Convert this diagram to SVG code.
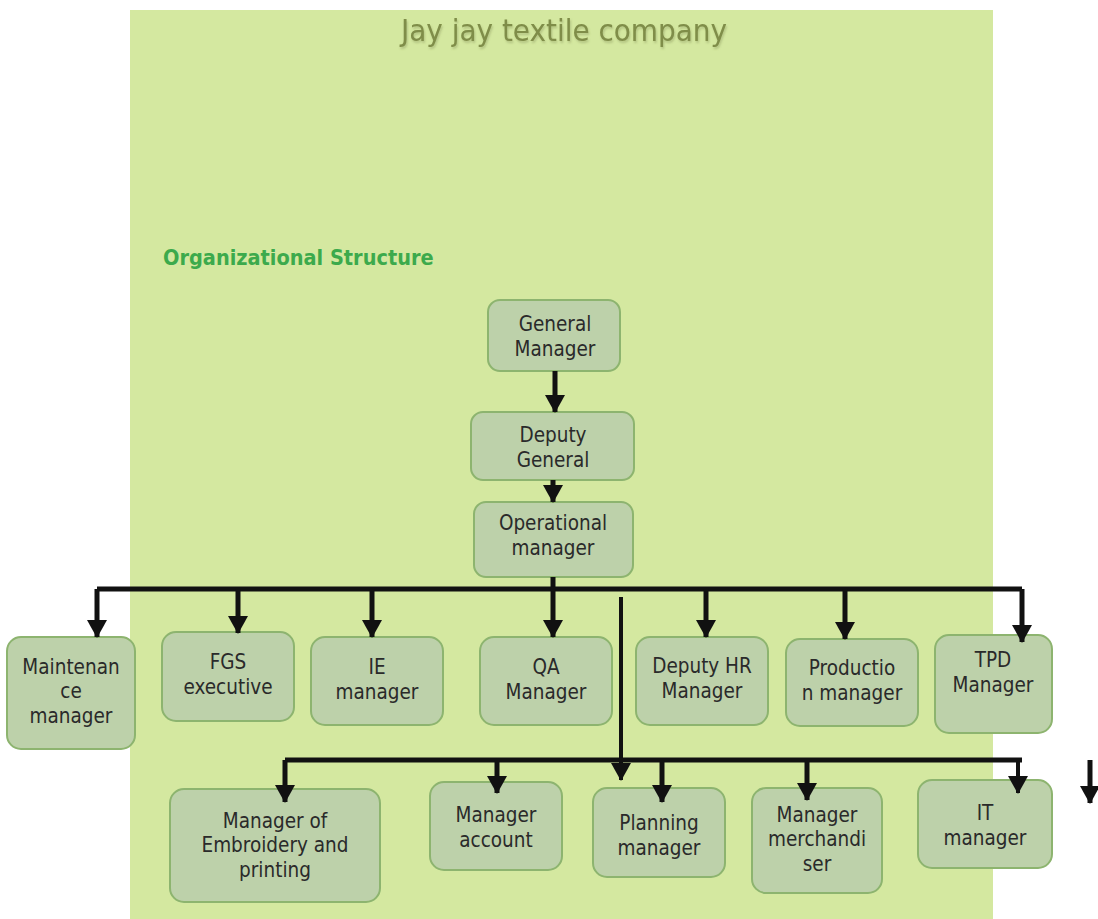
<svg xmlns="http://www.w3.org/2000/svg" width="1098" height="919" viewBox="0 0 1098 919">
<style>
.bg{fill:#d4e8a0}
.node rect{fill:#bdd1aa;stroke:#8db46f;stroke-width:2}
.node text{font-family:"DejaVu Sans Condensed","DejaVu Sans",sans-serif;font-size:20.5px;fill:#2a2a2a;text-anchor:middle}
.conn path{fill:none;stroke:#111;stroke-width:5}
.conn .thin{stroke-width:4}
.title{font-family:"DejaVu Sans Condensed","DejaVu Sans",sans-serif;font-size:31px;fill:#7f8d48;text-anchor:middle}
.sub{font-family:"DejaVu Sans Condensed","DejaVu Sans",sans-serif;font-size:21.5px;font-weight:bold;fill:#3caa4c}
</style>
<defs>
<marker id="ad" markerUnits="userSpaceOnUse" markerWidth="20" markerHeight="18" refX="10" refY="17" viewBox="0 0 20 18">
<path d="M0,0 L20,0 L10,18 Z" fill="#111"/>
</marker>
<filter id="sh" x="-5%" y="-20%" width="110%" height="150%">
<feDropShadow dx="1" dy="2" stdDeviation="1.2" flood-color="#6e7a40" flood-opacity="0.35"/>
</filter>
</defs>
<rect x="0" y="0" width="1098" height="919" fill="#ffffff"/>
<rect class="bg" x="130" y="10" width="863" height="909"/>
<text class="title" x="564" y="41" filter="url(#sh)">Jay jay textile company</text>
<text class="sub" x="163" y="265">Organizational Structure</text>

<g id="n-gm" class="node"><rect x="488" y="300" width="132" height="71" rx="12"/><text x="555" y="331">General</text><text x="555" y="356">Manager</text></g>
<g id="n-dg" class="node"><rect x="471" y="412" width="163" height="68" rx="12"/><text x="553" y="442">Deputy</text><text x="553" y="467">General</text></g>
<g id="n-om" class="node"><rect x="474" y="502" width="159" height="75" rx="12"/><text x="553" y="530">Operational</text><text x="553" y="555">manager</text></g>

<g id="n-maint" class="node"><rect x="7" y="637" width="128" height="112" rx="14"/><text x="71" y="674">Maintenan</text><text x="71" y="698">ce</text><text x="71" y="723">manager</text></g>
<g id="n-fgs" class="node"><rect x="162" y="632" width="132" height="89" rx="14"/><text x="228" y="669">FGS</text><text x="228" y="694">executive</text></g>
<g id="n-ie" class="node"><rect x="311" y="637" width="132" height="88" rx="14"/><text x="377" y="674">IE</text><text x="377" y="699">manager</text></g>
<g id="n-qa" class="node"><rect x="480" y="637" width="132" height="88" rx="14"/><text x="546" y="674">QA</text><text x="546" y="699">Manager</text></g>
<g id="n-dhr" class="node"><rect x="636" y="637" width="132" height="88" rx="14"/><text x="702" y="673">Deputy HR</text><text x="702" y="698">Manager</text></g>
<g id="n-prod" class="node"><rect x="786" y="639" width="132" height="87" rx="14"/><text x="852" y="675">Productio</text><text x="852" y="700">n manager</text></g>
<g id="n-tpd" class="node"><rect x="935" y="635" width="117" height="98" rx="14"/><text x="993" y="667">TPD</text><text x="993" y="692">Manager</text></g>

<g id="n-emb" class="node"><rect x="170" y="789" width="210" height="113" rx="14"/><text x="275" y="828">Manager of</text><text x="275" y="852">Embroidery and</text><text x="275" y="877">printing</text></g>
<g id="n-acc" class="node"><rect x="430" y="782" width="132" height="88" rx="14"/><text x="496" y="822">Manager</text><text x="496" y="847">account</text></g>
<g id="n-plan" class="node"><rect x="593" y="788" width="132" height="89" rx="14"/><text x="659" y="830">Planning</text><text x="659" y="855">manager</text></g>
<g id="n-merch" class="node"><rect x="752" y="788" width="130" height="105" rx="14"/><text x="817" y="822">Manager</text><text x="817" y="846">merchandi</text><text x="817" y="871">ser</text></g>
<g id="n-it" class="node"><rect x="918" y="780" width="134" height="88" rx="14"/><text x="985" y="820">IT</text><text x="985" y="845">manager</text></g>

<g id="connectors" class="conn">
<path d="M555,371 V412" marker-end="url(#ad)"/>
<path d="M553,480 V502" marker-end="url(#ad)"/>
<path d="M553,577 V589"/>
<path d="M97,589 H1022"/>
<path d="M97,589 V637" marker-end="url(#ad)"/>
<path d="M238,589 V633" marker-end="url(#ad)"/>
<path d="M372,589 V637" marker-end="url(#ad)"/>
<path d="M553,589 V637" marker-end="url(#ad)"/>
<path d="M706,589 V637" marker-end="url(#ad)"/>
<path d="M845,589 V639" marker-end="url(#ad)"/>
<path d="M1022,589 V642" marker-end="url(#ad)"/>
<path class="thin" d="M621,597 V780" marker-end="url(#ad)"/>
<path d="M285,760 H1022"/>
<path d="M285,760 V802" marker-end="url(#ad)"/>
<path d="M497,760 V793" marker-end="url(#ad)"/>
<path d="M662,760 V802" marker-end="url(#ad)"/>
<path d="M807,760 V800" marker-end="url(#ad)"/>
<path class="thin" d="M1018,760 V793" marker-end="url(#ad)"/>
<path d="M1090,760 V803" marker-end="url(#ad)"/>
</g>
</svg>
